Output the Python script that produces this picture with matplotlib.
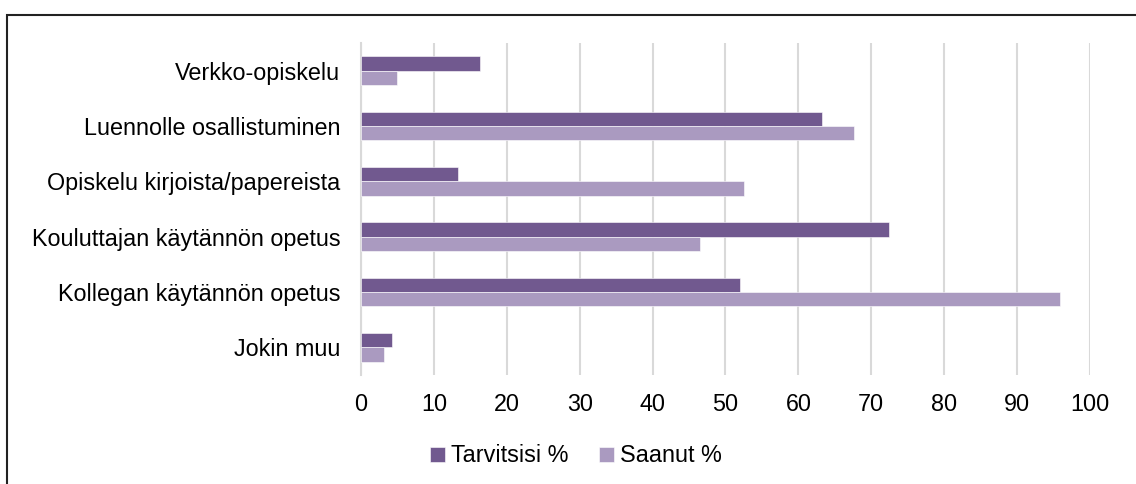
import numpy as np
import matplotlib
matplotlib.use("Agg")
import matplotlib.pyplot as plt
from matplotlib.patches import Rectangle

plt.rcParams["font.family"] = ["Liberation Sans", "DejaVu Sans"]

# --- Data --- #
categories = [
    "Verkko-opiskelu",
    "Luennolle osallistuminen",
    "Opiskelu kirjoista/papereista",
    "Kouluttajan käytännön opetus",
    "Kollegan käytännön opetus",
    "Jokin muu",
]
tarvitsisi = [16.3, 63.2, 13.3, 72.4, 52.0, 4.2]
saanut = [5.0, 67.6, 52.5, 46.5, 95.9, 3.1]
series_names = ["Tarvitsisi %", "Saanut %"]
xticks = list(range(0, 101, 10))

dark = "#71598F"
light = "#AA9AC0"
grid_col = "#D9D9D9"
fs = 16.8

# --- Figure --- #
fig = plt.figure(figsize=(11.36, 4.84), dpi=100)
W, H = 1136, 484
ax = fig.add_axes([361 / W, 1 - 375 / H, (1090 - 361) / W, (375 - 43) / H])

y = np.arange(len(categories))
h = 0.26
ax.barh(y - h / 2, tarvitsisi, height=h, color=dark, edgecolor="white",
        linewidth=0.4, label=series_names[0], zorder=3)
ax.barh(y + h / 2, saanut, height=h, color=light, edgecolor="white",
        linewidth=0.4, label=series_names[1], zorder=3)

ax.set_ylim(len(categories) - 0.5, -0.5)
ax.set_xlim(0, 100)
ax.set_xticks(xticks)
ax.set_yticks(y)
ax.set_yticklabels(categories)
ax.tick_params(axis="both", length=0, labelsize=fs, colors="black")
ax.tick_params(axis="x", pad=13)
ax.tick_params(axis="y", pad=15)

ax.grid(axis="x", color=grid_col, linewidth=1.5, zorder=0)
for s in ["top", "right", "bottom"]:
    ax.spines[s].set_visible(False)
ax.spines["left"].set_color(grid_col)
ax.spines["left"].set_linewidth(1.5)

# --- Legend --- #
fig.legend(loc="center", bbox_to_anchor=(576 / W, 1 - 456 / H), ncol=2,
           frameon=False, fontsize=fs, handlelength=0.65, handleheight=0.65,
           handletextpad=0.25, columnspacing=1.3)

# --- Outer frame --- #
fig.patches.append(Rectangle((7 / W, -0.05), 1.2, 1 - 15 / H + 0.05,
                             transform=fig.transFigure, fill=False,
                             edgecolor="#222222", linewidth=1.5))

plt.savefig("out.png", dpi=100)
